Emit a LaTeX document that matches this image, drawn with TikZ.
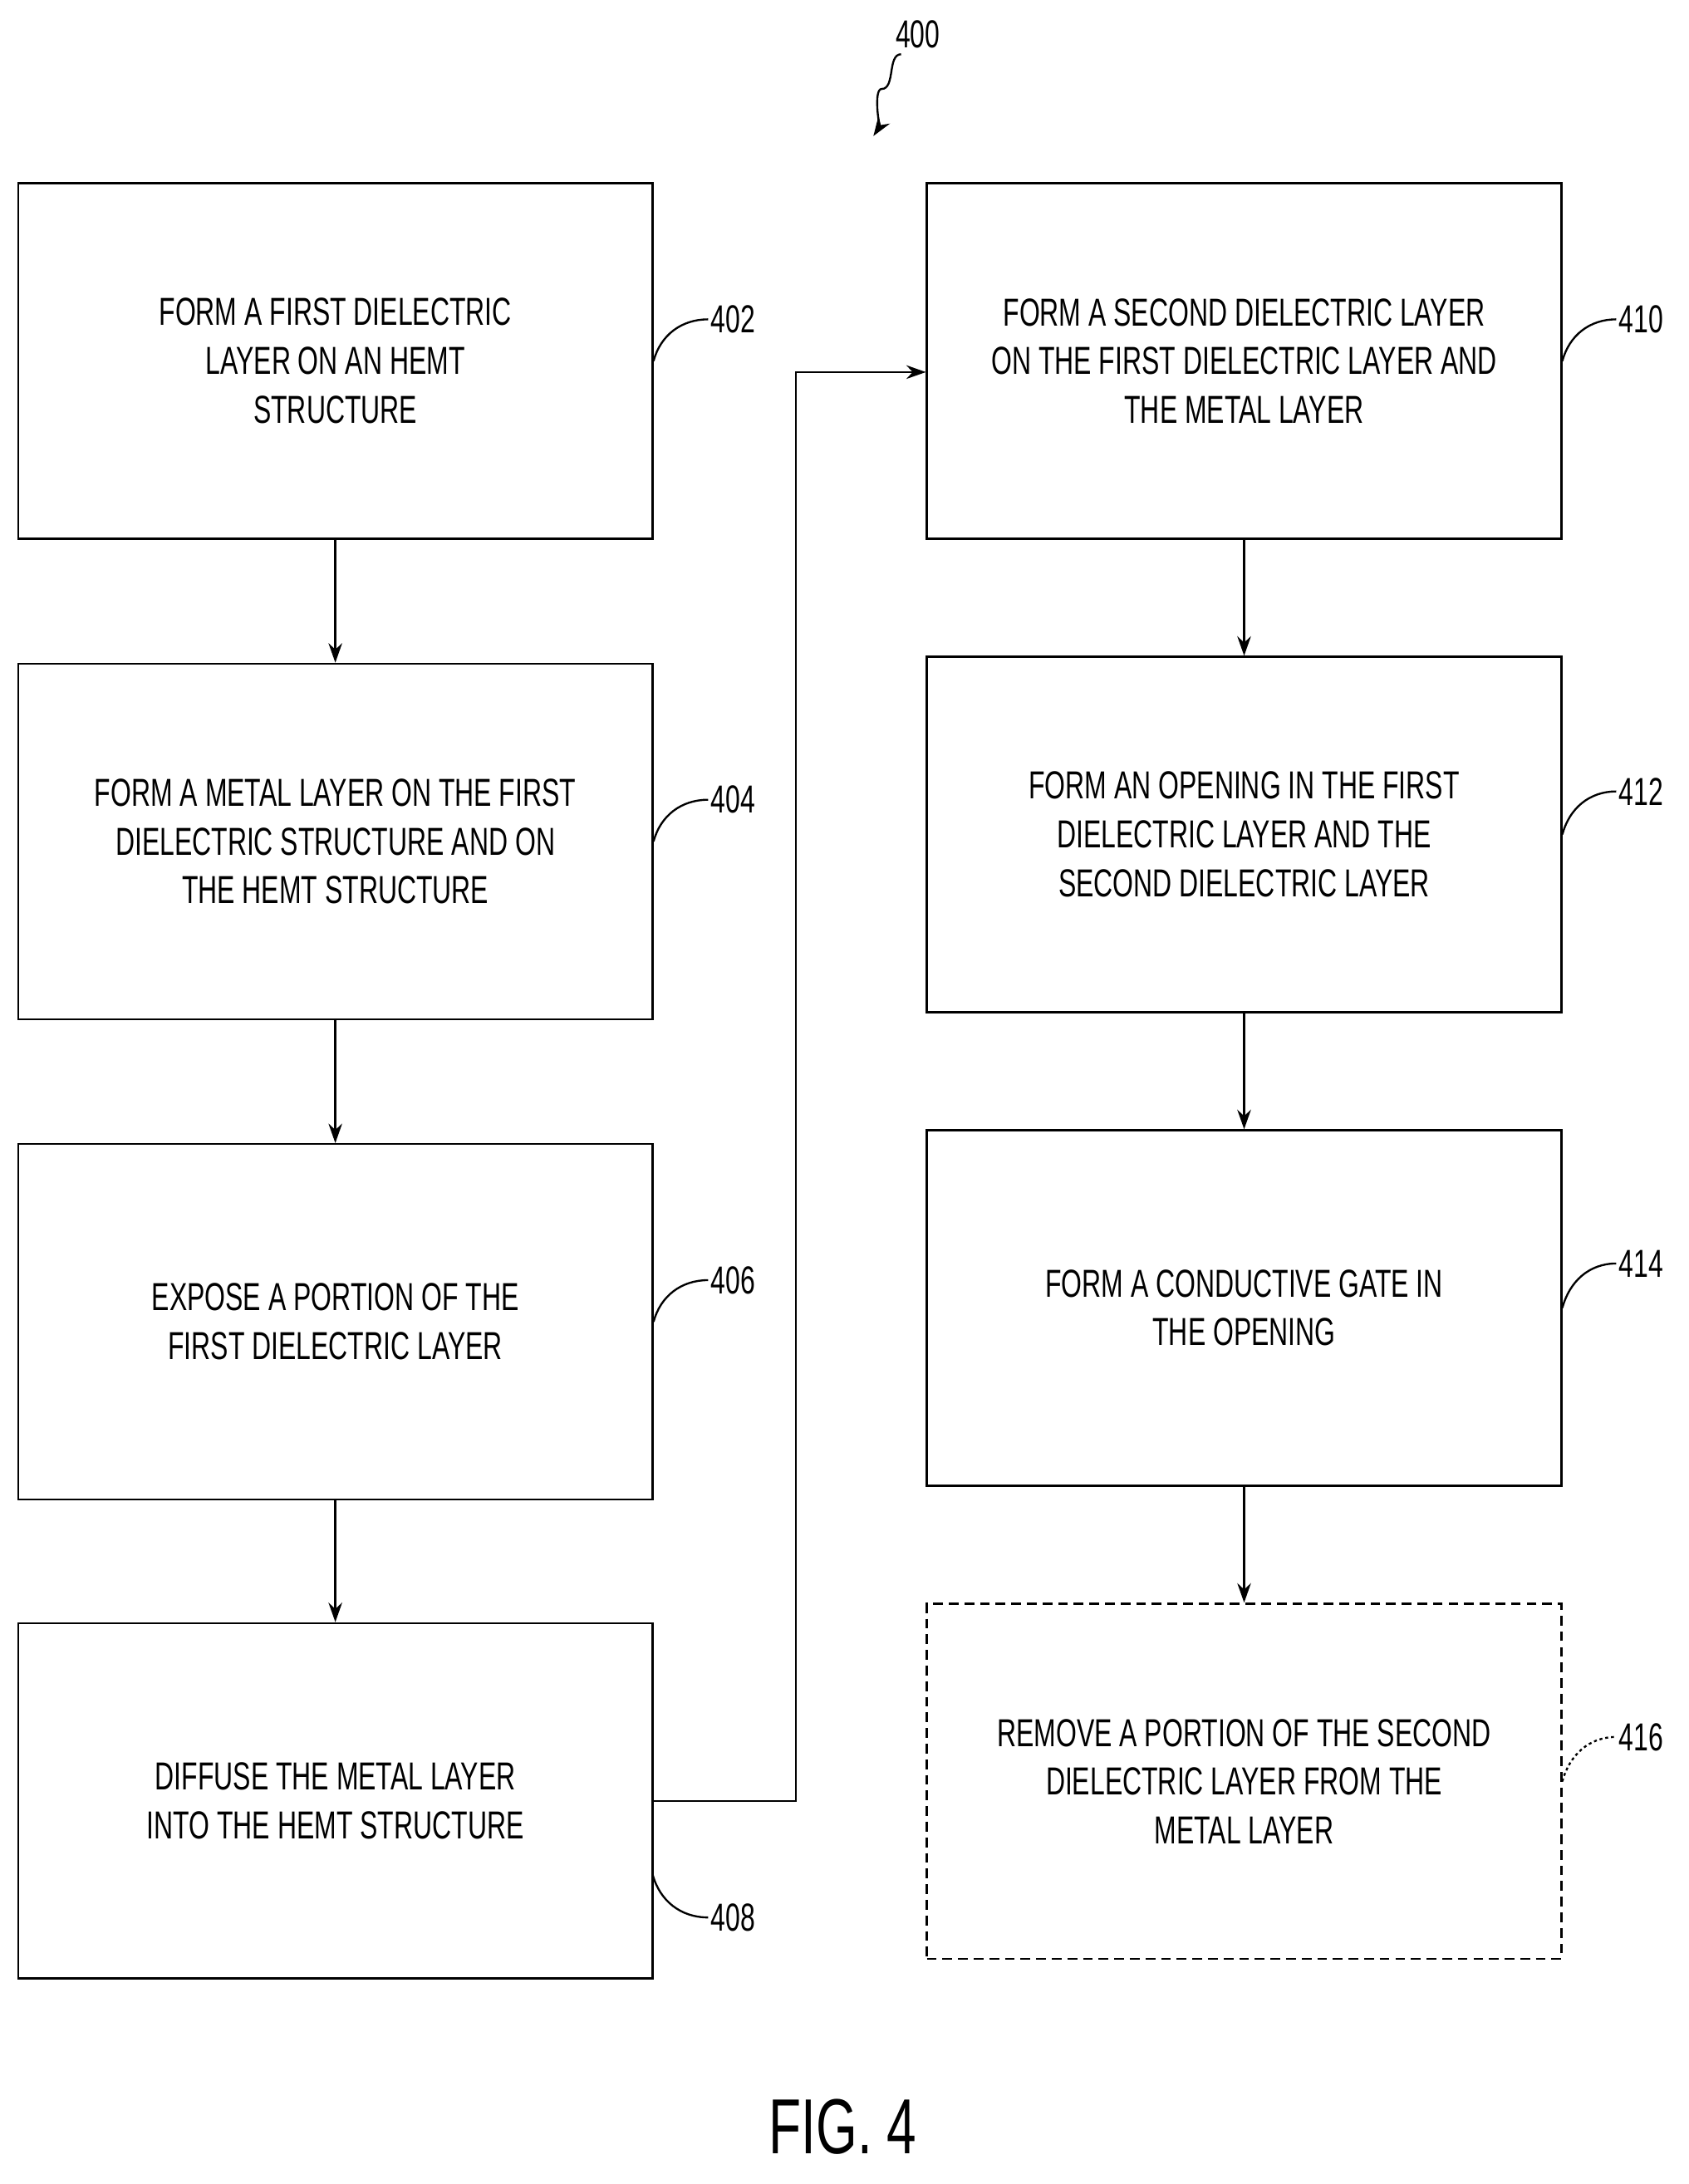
\documentclass[tikz,border=0pt]{standalone}
\usepackage{fontspec}
\setmainfont{Liberation Sans}[FakeStretch=0.68]
\usetikzlibrary{positioning,arrows.meta}
\tikzset{every picture/.style={line width=2pt}}
\tikzset{stepbox/.style={draw,minimum width=22.85cm,minimum height=12.8cm,align=center,
  font=\fontsize{40}{50}\selectfont,inner sep=0pt},
  lbl/.style={font=\fontsize{40}{50}\selectfont,inner sep=2pt},
  flow/.style={-{Stealth[length=20pt,width=14pt]}}}
\begin{document}
\begin{tikzpicture}[x=0.05cm,y=-0.05cm]
\useasboundingbox (0,0) rectangle (1216,1573);
\node[stepbox] (b402) at (241.5,260) {FORM A FIRST DIELECTRIC\\LAYER ON AN HEMT\\STRUCTURE};
\node[stepbox] (b404) at (241.5,606) {FORM A METAL LAYER ON THE FIRST\\DIELECTRIC STRUCTURE AND ON\\THE HEMT STRUCTURE};
\node[stepbox] (b406) at (241.5,952) {EXPOSE A PORTION OF THE\\FIRST DIELECTRIC LAYER};
\node[stepbox] (b408) at (241.5,1297) {DIFFUSE THE METAL LAYER\\INTO THE HEMT STRUCTURE};
\node[stepbox] (b410) at (896,260) {FORM A SECOND DIELECTRIC LAYER\\ON THE FIRST DIELECTRIC LAYER AND\\THE METAL LAYER};
\node[stepbox] (b412) at (896,601) {FORM AN OPENING IN THE FIRST\\DIELECTRIC LAYER AND THE\\SECOND DIELECTRIC LAYER};
\node[stepbox] (b414) at (896,942) {FORM A CONDUCTIVE GATE IN\\THE OPENING};
\node[stepbox,dashed,dash pattern=on 10pt off 6pt] (b416) at (896,1283) {REMOVE A PORTION OF THE SECOND\\DIELECTRIC LAYER FROM THE\\METAL LAYER};
%
\node[lbl] (l402) at (528,230) {402};
\node[lbl] (l404) at (528,576) {404};
\node[lbl] (l406) at (528,922) {406};
\node[lbl] (l408) at (528,1381) {408};
\node[lbl] (l410) at (1182,230) {410};
\node[lbl] (l412) at (1182,570) {412};
\node[lbl] (l414) at (1182,910) {414};
\node[lbl] (l416) at (1182,1251) {416};
\node[lbl] (l400) at (661,25) {400};
\node[font=\fontsize{80}{90}\selectfont] (fig) at (607,1532) {FIG. 4};
\coordinate (a400) at (629,98);
\coordinate (c408) at (470,1350);
\coordinate (turn) at (573,268);
%
\foreach \Box in {402,404,406,410,412,414}
  \draw (b\Box.east) to[out=75,in=180] (l\Box.west);
\draw[dashed] (b416.east) to[out=75,in=180] (l416.west);
\draw (c408) to[out=-75,in=180] (l408.west);
\draw[flow] (l400.south west) ++(6,2) .. controls +(-10,0) and +(10,0) .. ++(-14,25) .. controls +(-6,0) and +(4,-6) .. (a400);
%
\foreach \Source/\Target in {b402/b404,b404/b406,b406/b408,b410/b412,b412/b414,b414/b416}
  \draw[flow] (\Source) -- (\Target);
\draw[flow] (b408.east) -| (turn) -- (b410.west |- turn);
\end{tikzpicture}
\end{document}
